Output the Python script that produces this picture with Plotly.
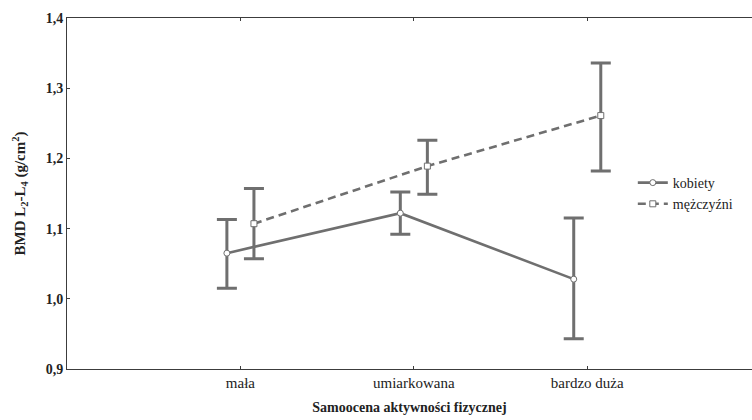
import plotly.graph_objects as go

categories = ["mała", "umiarkowana", "bardzo duża"]
series_names = ["kobiety", "mężczyźni"]

women_mean = [1.065, 1.122, 1.028]
women_upper = [1.113, 1.152, 1.115]
women_lower = [1.015, 1.092, 0.943]

men_mean = [1.107, 1.189, 1.261]
men_upper = [1.157, 1.226, 1.336]
men_lower = [1.057, 1.149, 1.182]

y_ticks = [0.9, 1.0, 1.1, 1.2, 1.3, 1.4]

GREY = "#6f6f6f"
AXIS = "#3c3c3c"
FONT = "'Liberation Serif', 'Times New Roman', 'DejaVu Serif', serif"

idx = list(range(len(categories)))
off = 0.078

def trace(name, mean, up, lo, shift, dash, symbol):
    return go.Scatter(
        x=[i + shift for i in idx], y=mean, name=name, mode="lines+markers",
        line=dict(color=GREY, width=2.6, dash=dash),
        marker=dict(symbol=symbol, size=6, color="white", line=dict(color=GREY, width=1)),
        error_y=dict(type="data", symmetric=False,
                     array=[u - m for u, m in zip(up, mean)],
                     arrayminus=[m - l for m, l in zip(mean, lo)],
                     color=GREY, thickness=3, width=10),
    )

fig = go.Figure()
fig.add_trace(trace(series_names[0], women_mean, women_upper, women_lower, -off, "solid", "circle"))
fig.add_trace(trace(series_names[1], men_mean, men_upper, men_lower, off, "8px,5px", "square"))

fig.update_layout(
    width=752, height=420,
    margin=dict(l=67, r=0, t=18, b=51),
    paper_bgcolor="white", plot_bgcolor="white",
    separators=", ",
    font=dict(family=FONT, color="#222", size=14),
    showlegend=True,
    legend=dict(x=0.826, y=0.5, xanchor="left", yanchor="middle",
                font=dict(family=FONT, size=14, color="#222"),
                bgcolor="rgba(0,0,0,0)", tracegroupgap=0, itemwidth=30),
    xaxis=dict(range=[-1, 2.95], tickvals=idx, ticktext=categories,
               showgrid=False, zeroline=False, showline=True, linecolor=AXIS, linewidth=1,
               mirror="ticks", ticks="inside", ticklen=3, tickcolor=AXIS,
               tickfont=dict(family=FONT, size=15, color="#222"),
               title=dict(text="<b>Samoocena aktywności fizycznej</b>",
                          font=dict(family=FONT, size=14, color="#222"), standoff=12)),
    yaxis=dict(range=[0.9, 1.4], tickvals=y_ticks, tickformat=".1f",
               showgrid=False, zeroline=False, showline=True, linecolor=AXIS, linewidth=1,
               ticks="inside", ticklen=3, tickcolor=AXIS,
               tickfont=dict(family=FONT, size=14, color="#222", weight="bold"),
               title=dict(text="<b>BMD L<sub>2</sub>-L<sub>4</sub> (g/cm<sup>2</sup>)</b>",
                          font=dict(family=FONT, size=15, color="#222"), standoff=16)),
)

fig.write_html("out.html")
